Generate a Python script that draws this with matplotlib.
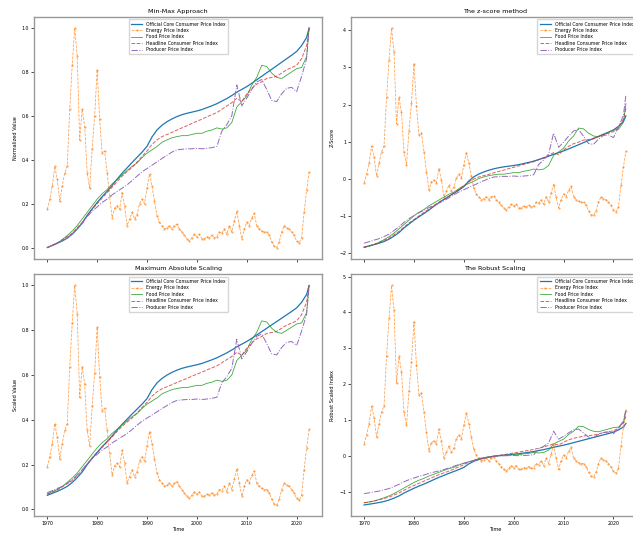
import numpy as np
import matplotlib
matplotlib.use('Agg')
import matplotlib.pyplot as plt

# yearly sample points (last one is mid-2022); energy is sampled every half year
years = list(range(1970, 2023)) + [2022.5]
energy_years = np.arange(1970, 2023, 0.5)

# every index expressed relative to its own peak level
core_cpi = [0.063, 0.072, 0.081, 0.091, 0.103, 0.12, 0.142, 0.167, 0.20, 0.228,
            0.255, 0.28, 0.303, 0.328, 0.355, 0.38, 0.403, 0.426, 0.448, 0.47,
            0.495, 0.535, 0.565, 0.585, 0.60, 0.612, 0.622, 0.63, 0.636, 0.641,
            0.646, 0.652, 0.66, 0.668, 0.677, 0.688, 0.699, 0.712, 0.726, 0.738,
            0.75, 0.764, 0.779, 0.794, 0.809, 0.824, 0.839, 0.854, 0.869, 0.884,
            0.90, 0.925, 0.96, 1.0]

energy = [0.19, 0.236, 0.294, 0.383, 0.324, 0.226, 0.294, 0.353, 0.383, 0.637,
          0.833, 1.0, 0.873, 0.50, 0.637, 0.559, 0.353, 0.285, 0.461, 0.608,
          0.814, 0.593, 0.441, 0.451, 0.353, 0.250, 0.154, 0.196, 0.206, 0.19,
          0.265, 0.206, 0.118, 0.147, 0.177, 0.147, 0.167, 0.216, 0.236, 0.216,
          0.285, 0.348, 0.294, 0.226, 0.162, 0.133, 0.118, 0.103, 0.108, 0.118,
          0.103, 0.118, 0.123, 0.103, 0.089, 0.074, 0.059, 0.049, 0.064, 0.079,
          0.069, 0.079, 0.059, 0.059, 0.069, 0.064, 0.074, 0.064, 0.069, 0.089,
          0.084, 0.103, 0.079, 0.118, 0.089, 0.138, 0.182, 0.118, 0.059, 0.103,
          0.133, 0.118, 0.152, 0.172, 0.118, 0.103, 0.094, 0.089, 0.089, 0.074,
          0.045, 0.025, 0.02, 0.045, 0.089, 0.118, 0.108, 0.103, 0.089, 0.074,
          0.049, 0.04, 0.064, 0.177, 0.275, 0.357]

food = [0.070, 0.079, 0.089, 0.103, 0.121, 0.140, 0.163, 0.191, 0.219, 0.247,
        0.275, 0.298, 0.316, 0.340, 0.358, 0.377, 0.396, 0.414, 0.428, 0.451,
        0.470, 0.484, 0.498, 0.516, 0.526, 0.535, 0.540, 0.544, 0.544, 0.549,
        0.554, 0.554, 0.563, 0.568, 0.577, 0.572, 0.577, 0.600, 0.665, 0.688,
        0.712, 0.758, 0.791, 0.842, 0.837, 0.809, 0.791, 0.786, 0.800, 0.814,
        0.828, 0.833, 0.879, 1.0]

headline_cpi = [0.068, 0.077, 0.087, 0.101, 0.115, 0.129, 0.152, 0.175, 0.203, 0.231,
                0.254, 0.278, 0.301, 0.324, 0.348, 0.371, 0.390, 0.408, 0.431, 0.455,
                0.478, 0.506, 0.525, 0.539, 0.548, 0.557, 0.567, 0.576, 0.585, 0.595,
                0.604, 0.613, 0.623, 0.632, 0.641, 0.655, 0.669, 0.683, 0.702, 0.688,
                0.720, 0.744, 0.762, 0.772, 0.786, 0.790, 0.795, 0.809, 0.823, 0.832,
                0.842, 0.870, 0.926, 1.0]

ppi = [0.075, 0.084, 0.094, 0.103, 0.117, 0.131, 0.154, 0.177, 0.205, 0.228,
       0.246, 0.265, 0.279, 0.297, 0.311, 0.325, 0.339, 0.357, 0.376, 0.394,
       0.408, 0.422, 0.436, 0.450, 0.464, 0.477, 0.487, 0.489, 0.491, 0.491,
       0.493, 0.491, 0.493, 0.496, 0.501, 0.565, 0.593, 0.630, 0.760, 0.672,
       0.704, 0.741, 0.773, 0.783, 0.741, 0.695, 0.690, 0.723, 0.746, 0.750,
       0.732, 0.797, 0.871, 1.0]

series = [
    ('Official Core Consumer Price Index', years, core_cpi,
     dict(color='tab:blue', ls='-', lw=0.9)),
    ('Energy Price Index', energy_years, energy,
     dict(color='tab:orange', ls='--', lw=0.55, marker='.', ms=1.0, alpha=0.75)),
    ('Food Price Index', years, food,
     dict(color='tab:green', ls='-', lw=0.6, alpha=0.9)),
    ('Headline Consumer Price Index', years, headline_cpi,
     dict(color='tab:red', ls='--', lw=0.7, alpha=0.75)),
    ('Producer Price Index', years, ppi,
     dict(color='tab:purple', ls='-.', lw=0.7)),
]


def min_max(x):
    return (x - x.min()) / (x.max() - x.min())


def z_score(x):
    return (x - x.mean()) / x.std()


def max_abs(x):
    return x / np.abs(x).max()


def robust(x):
    q1, med, q3 = np.percentile(x, [25, 50, 75])
    return (x - med) / (q3 - q1)


panels = [
    ('Min-Max Approach', 'Normalized Value', min_max, 'upper center'),
    ('The z-score method', 'Z-Score', z_score, 'upper right'),
    ('Maximum Absolute Scaling', 'Scaled Value', max_abs, 'upper center'),
    ('The Robust Scaling', 'Robust Scaled Index', robust, 'upper right'),
]

fig = plt.figure(figsize=(6.33, 5.33), dpi=100)
lefts = [0.054, 0.5545]
bottoms = [0.515, 0.032]
w, h = 0.455, 0.453

for i, (title, ylabel, func, loc) in enumerate(panels):
    ax = fig.add_axes([lefts[i % 2], bottoms[i // 2], w, h])
    for name, t, vals, style in series:
        ax.plot(t, func(np.array(vals)), label=name, **style)
    ax.set_title(title, fontsize=4.6, pad=3)
    ax.set_ylabel(ylabel, fontsize=3.6, labelpad=3)
    ax.set_xticks([1970, 1980, 1990, 2000, 2010, 2020])
    if i // 2 == 1:
        ax.set_xlabel('Time', fontsize=3.6, labelpad=1)
    else:
        ax.set_xticklabels([])
    ax.tick_params(labelsize=3.4, length=2, width=0.5, pad=1.5)
    for sp in ax.spines.values():
        sp.set_color('#999999')
        sp.set_linewidth(1.0)
    ax.legend(loc=loc, fontsize=3.3, handlelength=2.5, borderpad=0.5,
              labelspacing=0.3)

fig.savefig('out.png', dpi=100)
